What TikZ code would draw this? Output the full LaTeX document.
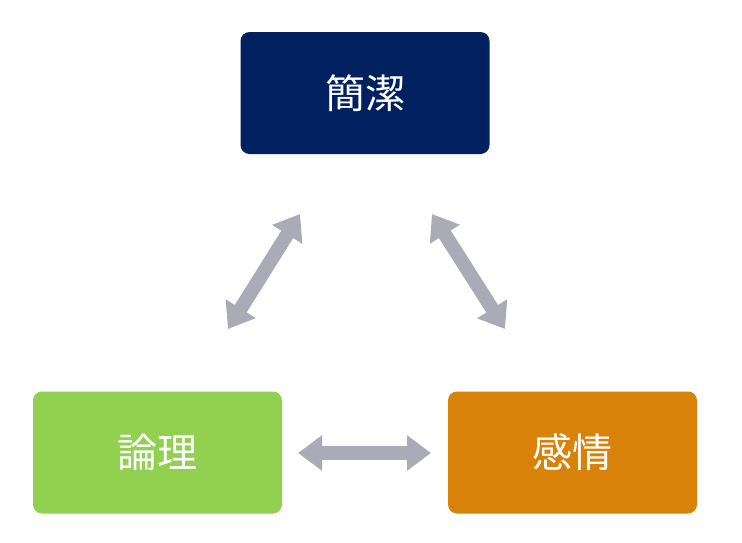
\documentclass[tikz,border=0pt]{standalone}
\usepackage{fontspec}
\newfontfamily\cjk{Noto Sans CJK JP}
\usetikzlibrary{arrows.meta}
\definecolor{navy}{HTML}{002060}
\definecolor{grn}{HTML}{92D050}
\definecolor{org}{HTML}{D9820A}
\definecolor{arr}{HTML}{ABABB8}
\begin{document}
\begin{tikzpicture}[x=1pt,y=-1pt,
  box/.style={rounded corners=9pt,minimum width=249pt,minimum height=122pt,inner sep=0pt,text=white,font=\cjk\fontsize{40}{48}\selectfont},
  dbl/.style={draw=arr,line width=14pt,{Triangle[width=34pt,length=24pt]}-{Triangle[width=34pt,length=24pt]}}]
\useasboundingbox (0,0) rectangle (742,542);
\node[box,fill=navy] (a) at (365,93) {簡潔};
\node[box,fill=grn] (b) at (157.5,452.5) {論理};
\node[box,fill=org] (c) at (572.5,452.5) {感情};
\coordinate (l1) at (228,329); \coordinate (l2) at (300,214);
\coordinate (r1) at (432,214); \coordinate (r2) at (505,329);
\coordinate (m1) at (298,453); \coordinate (m2) at (431,453);
\draw[dbl] (l1) -- (l2);
\draw[dbl] (r1) -- (r2);
\draw[dbl] (m1) -- (m2);
\end{tikzpicture}
\end{document}
